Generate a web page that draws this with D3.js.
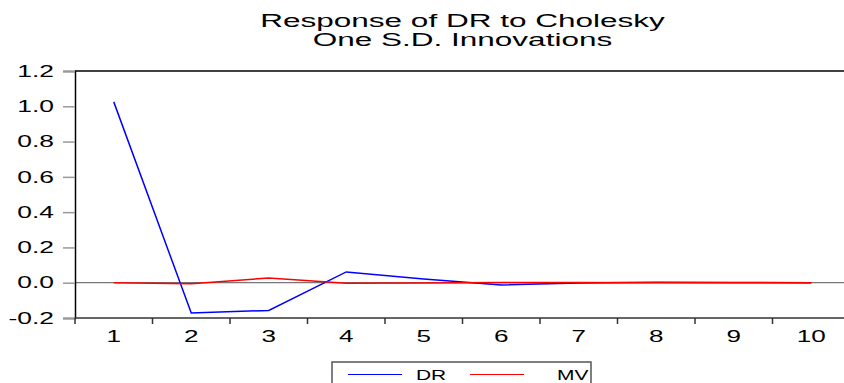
<!DOCTYPE html>
<html>
<head>
<meta charset="utf-8">
<script src="https://cdn.jsdelivr.net/npm/d3@7"></script>
<style>
	body { margin: 0; background: #fff; }
	svg { display: block; font-family: "Liberation Sans", Arial, sans-serif; }
</style>
</head>
<body>
<svg id="chart" width="844" height="383"></svg>
<script>
// impulse responses
const periods = [1, 2, 3, 4, 5, 6, 7, 8, 9, 10];
const dr = [1.025, -0.172, -0.157, 0.061, 0.021, -0.013, -0.002, 0.002, 0.001, 0.000];
const mv = [0.000, -0.006, 0.027, -0.003, -0.002, 0.001, 0.001, 0.000, 0.000, 0.000];
const yTicks = [-0.2, 0.0, 0.2, 0.4, 0.6, 0.8, 1.0, 1.2];
const seriesNames = ["DR", "MV"];
const seriesColors = ["#0000ff", "#ff0000"];
const titleLines = ["Response of DR to Cholesky", "One S.D. Innovations"];

const svg = d3.select("#chart");
const plotLeft = 75, plotRight = 850, plotTop = 71, plotBottom = 318;

const x = d3.scaleBand().domain(periods).range([plotLeft, plotRight]);
const y = d3.scaleLinear().domain([-0.2, 1.2]).range([plotBottom, plotTop]);

// stretch text horizontally like the original rendering
function stretch(sel, factor) {
	sel.each(function () {
		let w = this.getComputedTextLength();
		d3.select(this)
			.attr("textLength", w * factor)
			.attr("lengthAdjust", "spacingAndGlyphs");
	});
}

// title
let title = svg.append("g")
	.selectAll("text")
	.data(titleLines)
	.join("text")
	.attr("x", (plotLeft + plotRight) / 2)
	.attr("y", (d, i) => 27 + i * 19)
	.attr("text-anchor", "middle")
	.attr("font-size", 17.5)
	.attr("fill", "#000")
	.text(d => d);
stretch(title, 1.8);

// zero line
svg.append("line")
	.attr("x1", plotLeft).attr("x2", plotRight)
	.attr("y1", y(0)).attr("y2", y(0))
	.attr("stroke", "#555")
	.attr("stroke-width", 1);

// top border
svg.append("line")
	.attr("x1", plotLeft).attr("x2", plotRight)
	.attr("y1", plotTop).attr("y2", plotTop)
	.attr("stroke", "#000")
	.attr("stroke-width", 1.5);

// y axis
let yAxis = svg.append("g")
	.attr("transform", `translate(${plotLeft},0)`)
	.call(d3.axisLeft(y).tickValues(yTicks).tickFormat(d => d.toFixed(1)).tickSize(12).tickPadding(9));
yAxis.select(".domain").attr("stroke", "#000").attr("stroke-width", 1.5);
yAxis.selectAll(".tick line").attr("stroke", "#999").attr("stroke-width", 1.5);
yAxis.selectAll(".tick text")
	.attr("font-size", 16.5)
	.attr("font-family", "Liberation Sans, Arial, sans-serif")
	.attr("fill", "#000");
stretch(yAxis.selectAll(".tick text"), 1.6);

// x axis
let xAxis = svg.append("g")
	.attr("transform", `translate(0,${plotBottom})`)
	.call(d3.axisBottom(x).tickSize(0).tickPadding(12));
xAxis.select(".domain").remove();
xAxis.selectAll(".tick text")
	.attr("font-size", 16.5)
	.attr("font-family", "Liberation Sans, Arial, sans-serif")
	.attr("fill", "#000");
stretch(xAxis.selectAll(".tick text"), 1.58);

svg.append("line")
	.attr("x1", plotLeft).attr("x2", plotRight)
	.attr("y1", plotBottom).attr("y2", plotBottom)
	.attr("stroke", "#333")
	.attr("stroke-width", 1.5);

svg.append("g")
	.selectAll("line")
	.data(periods)
	.join("line")
	.attr("x1", d => x(d)).attr("x2", d => x(d))
	.attr("y1", plotBottom).attr("y2", plotBottom + 6)
	.attr("stroke", "#333")
	.attr("stroke-width", 1.5);

// series lines
const line = d3.line()
	.x((d, i) => x(periods[i]) + x.bandwidth() / 2)
	.y(d => y(d));

[dr, mv].forEach((values, i) => {
	svg.append("path")
		.datum(values)
		.attr("fill", "none")
		.attr("stroke", seriesColors[i])
		.attr("stroke-width", 1.5)
		.attr("d", line);
});

// legend
let legend = svg.append("g");
legend.append("rect")
	.attr("x", 332).attr("y", 362)
	.attr("width", 259).attr("height", 40)
	.attr("fill", "#fff")
	.attr("stroke", "#555")
	.attr("stroke-width", 1.5);

const legendX = [348, 470];
seriesNames.forEach((name, i) => {
	legend.append("line")
		.attr("x1", legendX[i]).attr("x2", legendX[i] + 54)
		.attr("y1", 374.5).attr("y2", 374.5)
		.attr("stroke", seriesColors[i])
		.attr("stroke-width", 1.2);
	let t = legend.append("text")
		.attr("x", legendX[i] + 68 + i * 19)
		.attr("y", 380)
		.attr("font-size", 15.5)
		.attr("fill", "#000")
		.text(name);
	stretch(t, 1.35);
});
</script>
</body>
</html>
